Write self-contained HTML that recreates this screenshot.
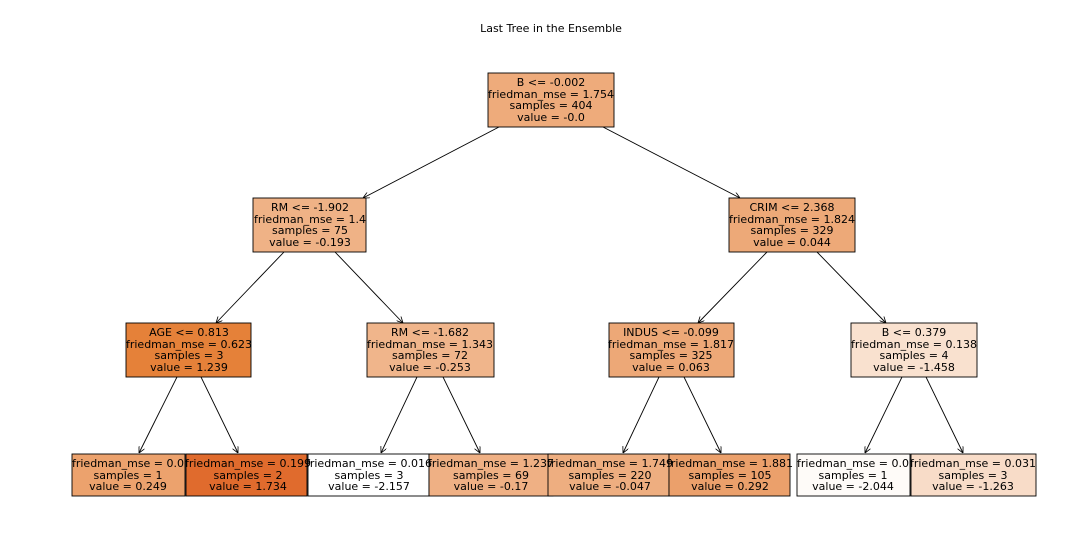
<!DOCTYPE html>
<html><head><style>body{margin:0;background:#fff}svg{display:block}text{font-family:"DejaVu Sans",sans-serif;font-size:11px;fill:#000}</style></head><body>
<svg width="1080" height="533" xmlns="http://www.w3.org/2000/svg">
<defs><marker id="a" viewBox="0 0 10 10" refX="10" refY="5" markerWidth="7" markerHeight="7" orient="auto"><path d="M0,0 L10,5 L0,10" fill="none" stroke="#000" stroke-width="1.3"/></marker></defs>
<text x="551" y="32" text-anchor="middle">Last Tree in the Ensemble</text>
<g stroke="#000" stroke-width="0.9" marker-end="url(#a)">
<line x1="499" y1="127" x2="363" y2="198"/><line x1="603" y1="127" x2="740" y2="198"/>
<line x1="284" y1="252" x2="216" y2="323"/><line x1="335" y1="252" x2="403" y2="323"/>
<line x1="767" y1="252" x2="698" y2="323"/><line x1="817" y1="252" x2="886" y2="323"/>
<line x1="177" y1="377" x2="139" y2="453"/><line x1="201" y1="377" x2="238" y2="453"/>
<line x1="417" y1="377" x2="381" y2="453"/><line x1="443" y1="377" x2="480" y2="453"/>
<line x1="659" y1="377" x2="623" y2="453"/><line x1="684" y1="377" x2="721" y2="453"/>
<line x1="902" y1="377" x2="865" y2="453"/><line x1="926" y1="377" x2="963" y2="453"/>
</g>
<g stroke="#000" stroke-width="0.9">
<rect x="488" y="73" width="126" height="54" fill="#eeab7b"/>
<rect x="253" y="198" width="113" height="54" fill="#efb286"/>
<rect x="729" y="198" width="126" height="54" fill="#eda978"/>
<rect x="126" y="323" width="125" height="54" fill="#e58139"/>
<rect x="367" y="323" width="127" height="54" fill="#f0b58b"/>
<rect x="609" y="323" width="125" height="54" fill="#eda877"/>
<rect x="851" y="323" width="126" height="54" fill="#f9e1cf"/>
<rect x="72" y="454" width="113" height="42" fill="#eca26d"/>
<rect x="186" y="454" width="121" height="42" fill="#e06b2d"/>
<rect x="308" y="454" width="121" height="42" fill="#ffffff"/>
<rect x="429" y="454" width="124" height="42" fill="#efb084"/>
<rect x="548" y="454" width="121" height="42" fill="#eeae80"/>
<rect x="669" y="454" width="121" height="42" fill="#eba06b"/>
<rect x="797" y="454" width="113" height="42" fill="#fefbf8"/>
<rect x="911" y="454" width="125" height="42" fill="#f8dcc8"/>
</g>
<g text-anchor="middle">
<text x="551" y="86">B &lt;= -0.002</text><text x="551" y="98">friedman_mse = 1.754</text><text x="551" y="109">samples = 404</text><text x="551" y="121">value = -0.0</text>
<text x="310" y="211">RM &lt;= -1.902</text><text x="310" y="223">friedman_mse = 1.4</text><text x="310" y="234">samples = 75</text><text x="310" y="246">value = -0.193</text>
<text x="792" y="211">CRIM &lt;= 2.368</text><text x="792" y="223">friedman_mse = 1.824</text><text x="792" y="234">samples = 329</text><text x="792" y="246">value = 0.044</text>
<text x="189" y="336">AGE &lt;= 0.813</text><text x="189" y="348">friedman_mse = 0.623</text><text x="189" y="359">samples = 3</text><text x="189" y="371">value = 1.239</text>
<text x="430" y="336">RM &lt;= -1.682</text><text x="430" y="348">friedman_mse = 1.343</text><text x="430" y="359">samples = 72</text><text x="430" y="371">value = -0.253</text>
<text x="671" y="336">INDUS &lt;= -0.099</text><text x="671" y="348">friedman_mse = 1.817</text><text x="671" y="359">samples = 325</text><text x="671" y="371">value = 0.063</text>
<text x="914" y="336">B &lt;= 0.379</text><text x="914" y="348">friedman_mse = 0.138</text><text x="914" y="359">samples = 4</text><text x="914" y="371">value = -1.458</text>
<text x="128" y="467">friedman_mse = 0.0</text><text x="128" y="479">samples = 1</text><text x="128" y="490">value = 0.249</text>
<text x="248" y="467">friedman_mse = 0.199</text><text x="248" y="479">samples = 2</text><text x="248" y="490">value = 1.734</text>
<text x="369" y="467">friedman_mse = 0.016</text><text x="369" y="479">samples = 3</text><text x="369" y="490">value = -2.157</text>
<text x="491" y="467">friedman_mse = 1.237</text><text x="491" y="479">samples = 69</text><text x="491" y="490">value = -0.17</text>
<text x="610" y="467">friedman_mse = 1.749</text><text x="610" y="479">samples = 220</text><text x="610" y="490">value = -0.047</text>
<text x="730" y="467">friedman_mse = 1.881</text><text x="730" y="479">samples = 105</text><text x="730" y="490">value = 0.292</text>
<text x="853" y="467">friedman_mse = 0.0</text><text x="853" y="479">samples = 1</text><text x="853" y="490">value = -2.044</text>
<text x="973" y="467">friedman_mse = 0.031</text><text x="973" y="479">samples = 3</text><text x="973" y="490">value = -1.263</text>
</g>
</svg>
</body></html>
